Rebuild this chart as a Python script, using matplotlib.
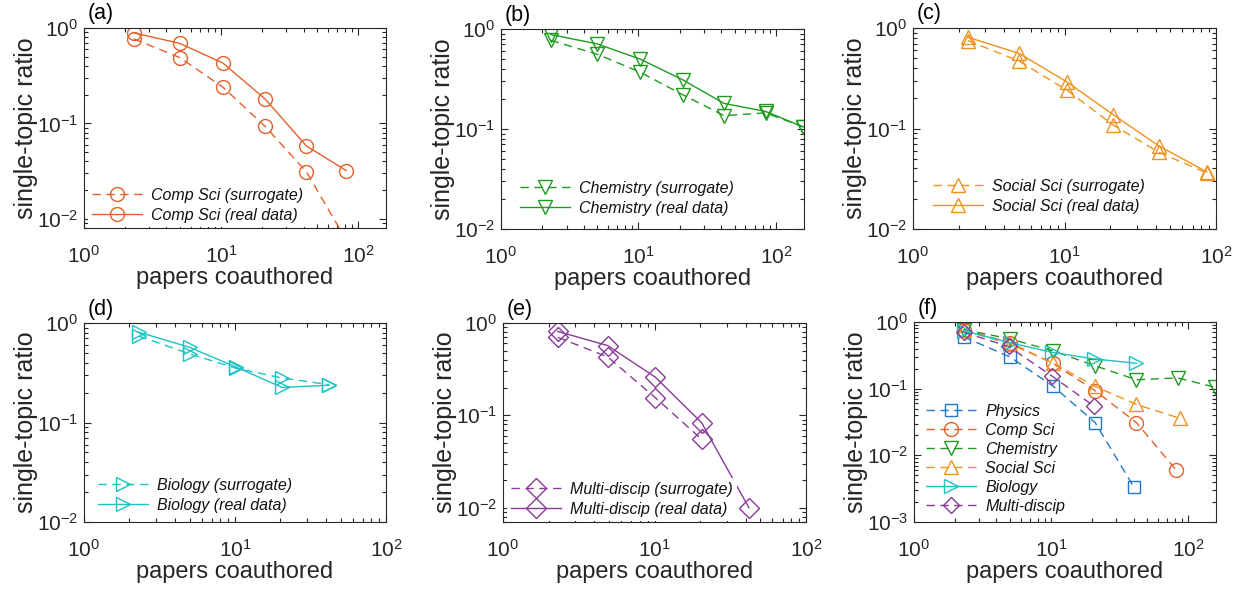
import numpy as np
import matplotlib
matplotlib.use('Agg')
import matplotlib.pyplot as plt

plt.rcParams['font.family'] = ['Liberation Sans', 'DejaVu Sans']
plt.rcParams['mathtext.default'] = 'regular'
plt.rcParams['axes.unicode_minus'] = False

# papers coauthored (bin centres) and single-topic ratios
x_phys = [2.3, 5.0, 10.3, 21, 40]
phys_surr = [0.60, 0.30, 0.11, 0.031, 0.0034]

x_comp = [2.3, 5.0, 10.3, 21, 42, 82]
comp_surr = [0.77, 0.49, 0.24, 0.093, 0.031, 0.006]
comp_real = [0.89, 0.69, 0.43, 0.18, 0.058, 0.032]

x_chem = [2.3, 5.0, 10.3, 21, 42, 84, 158]
chem_surr = [0.77, 0.56, 0.37, 0.22, 0.136, 0.145, 0.105]
chem_real = [0.88, 0.71, 0.50, 0.31, 0.18, 0.15, 0.105]

x_soc = [2.3, 5.0, 10.4, 21, 42, 87]
soc_surr = [0.75, 0.47, 0.24, 0.108, 0.058, 0.036]
soc_real = [0.81, 0.56, 0.29, 0.137, 0.067, 0.037]

x_bio = [2.3, 5.0, 10.2, 20.5, 42]
bio_surr = [0.74, 0.49, 0.35, 0.28, 0.24]
bio_real = [0.81, 0.57, 0.36, 0.225, 0.237]

x_multi = [2.3, 4.9, 10.1, 20.5, 42]
multi_surr = [0.70, 0.43, 0.156, 0.055]
multi_real = [0.81, 0.57, 0.26, 0.083, 0.010]

c_phys = '#1F78C8'
c_comp = '#E4602B'
c_chem = '#1E9B1E'
c_soc = '#EE931E'
c_bio = '#1BC3C3'
c_multi = '#8A3A99'

W, H = 1244, 590
fig = plt.figure(figsize=(W / 100, H / 100), dpi=100)

# panel boxes in pixels: left, top, right, bottom
boxes = {
    'a': (84, 28, 386, 228),
    'b': (501, 29, 804, 229),
    'c': (913, 28, 1216, 229),
    'd': (84, 323, 386, 522),
    'e': (503, 323, 806, 522),
    'f': (914, 322, 1216, 522),
}
ylims = {'a': (0.008, 1), 'b': (0.01, 1), 'c': (0.01, 1),
         'd': (0.01, 1), 'e': (0.007, 1), 'f': (0.001, 1)}
xlims = {'a': (1, 160), 'b': (1, 160), 'c': (1, 100),
         'd': (1, 100), 'e': (1, 100), 'f': (1, 160)}
# legend anchor, in pixels from the axes' lower-left corner
leg_px = {'a': (4, 1), 'b': (15, 9), 'c': (16, 11),
          'd': (10, 5), 'e': (4, 1), 'f': (8, 4)}

dash = (6, 4)
axs = {}
for k, (l, t, r, b) in boxes.items():
    ax = fig.add_axes([l / W, 1 - b / H, (r - l) / W, (b - t) / H])
    ax.set_xscale('log')
    ax.set_yscale('log')
    ax.set_xlim(*xlims[k])
    ax.set_ylim(*ylims[k])
    ax.tick_params(which='both', direction='in', top=True, right=True,
                   color='#262626', labelcolor='#262626', labelsize=15, width=0.8)
    ax.tick_params(which='major', length=5)
    ax.tick_params(which='minor', length=3)
    ax.tick_params(axis='x', which='major', pad=12)
    ax.tick_params(axis='y', which='major', pad=4)
    for s in ax.spines.values():
        s.set_color('#262626')
        s.set_linewidth(0.8)
    ax.set_xlabel('papers coauthored', fontsize=17, color='#262626', labelpad=0)
    ax.set_ylabel('single-topic ratio', fontsize=18, color='#262626')
    ax.yaxis.set_label_coords(-46 / (r - l), 0.5)
    ax.text(0.013, 1.07, '(' + k + ')', transform=ax.transAxes, fontsize=15.5,
            ha='left', va='center', color='black')
    axs[k] = ax

def pair(ax, x, surr, real, color, marker, name):
    ax.plot(x[:len(surr)], surr, color=color, marker=marker, ms=10, mfc='none',
            mew=1, lw=1, dashes=dash, label=name + ' (surrogate)')
    ax.plot(x[:len(real)], real, color=color, marker=marker, ms=10, mfc='none',
            mew=1, lw=1, label=name + ' (real data)')

pair(axs['a'], x_comp, comp_surr, comp_real, c_comp, 'o', 'Comp Sci')
pair(axs['b'], x_chem, chem_surr, chem_real, c_chem, 'v', 'Chemistry')
pair(axs['c'], x_soc, soc_surr, soc_real, c_soc, '^', 'Social Sci')
pair(axs['d'], x_bio, bio_surr, bio_real, c_bio, '>', 'Biology')
pair(axs['e'], x_multi, multi_surr, multi_real, c_multi, 'D', 'Multi-discip')

ax = axs['f']
ax.plot(x_phys, phys_surr, color=c_phys, marker='s', ms=9, mfc='none', mew=1, lw=1,
        dashes=dash, label='Physics')
ax.plot(x_comp, comp_surr, color=c_comp, marker='o', ms=10, mfc='none', mew=1, lw=1,
        dashes=dash, label='Comp Sci')
ax.plot(x_chem, chem_surr, color=c_chem, marker='v', ms=10, mfc='none', mew=1, lw=1,
        dashes=dash, label='Chemistry')
ax.plot(x_soc, soc_surr, color=c_soc, marker='^', ms=10, mfc='none', mew=1, lw=1,
        dashes=dash, label='Social Sci')
ax.plot(x_bio, bio_surr, color=c_bio, marker='>', ms=10, mfc='none', mew=1, lw=1,
        label='Biology')
ax.plot(x_multi[:len(multi_surr)], multi_surr, color=c_multi, marker='D', ms=8,
        mfc='none', mew=1, lw=1, dashes=dash, label='Multi-discip')

for k, ax in axs.items():
    l, t, r, b = boxes[k]
    px, py = leg_px[k]
    leg = ax.legend(loc='lower left', bbox_to_anchor=(px / (r - l), py / (b - t)),
                    borderaxespad=0, borderpad=0.25, handlelength=3.1,
                    handletextpad=0.6, labelspacing=0.32 if k != 'f' else 0.25,
                    prop={'style': 'italic', 'size': 11.5}, frameon=True,
                    fancybox=False, edgecolor='none', facecolor='white', framealpha=1)
    for txt in leg.get_texts():
        txt.set_color('#111111')

fig.savefig('out.png', dpi=100)
